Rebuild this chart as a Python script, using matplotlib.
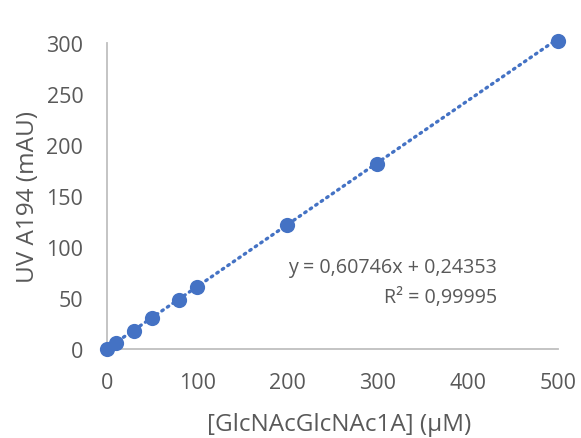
import matplotlib
matplotlib.use("Agg")
import matplotlib.pyplot as plt
import numpy as np

# Calibration data
concentration = [0, 10, 30, 50, 80, 100, 200, 300, 500]
absorbance = [0, 6, 18, 30, 48, 61, 121, 181, 302]
slope = 0.60746
intercept = 0.24353
r_squared = "0,99995"
x_ticks = [0, 100, 200, 300, 400, 500]
y_ticks = [0, 50, 100, 150, 200, 250, 300]

blue = "#4472C4"
grey_text = "#595959"
grey_axis = "#BFBFBF"

plt.rcParams["font.family"] = ["Open Sans", "DejaVu Sans"]

fig = plt.figure(figsize=(5.81, 4.39), dpi=100)
ax = fig.add_axes([0.184, 0.203, 0.776, 0.697])

xs = np.array([0, 500])
ax.plot(xs, slope * xs + intercept, color=blue, lw=2.4, ls=(0, (0.5, 1.5)),
        dash_capstyle="round", zorder=2, clip_on=False)
ax.scatter(concentration, absorbance, s=120, color=blue, zorder=3, clip_on=False,
           linewidths=0)

ax.set_xlim(0, 500)
ax.set_ylim(0, 300)
ax.set_xticks(x_ticks)
ax.set_yticks(y_ticks)
ax.tick_params(length=0, labelsize=15.5, colors=grey_text)
ax.tick_params(axis="x", pad=17)
ax.tick_params(axis="y", pad=17)
for side in ("top", "right"):
    ax.spines[side].set_visible(False)
for side in ("left", "bottom"):
    ax.spines[side].set_color(grey_axis)
    ax.spines[side].set_linewidth(1.3)

ax.set_xlabel("[GlcNAcGlcNAc1A] (µM)", fontsize=17.5, color=grey_text, va="center")
ax.set_ylabel("UV A194 (mAU)", fontsize=17.5, color=grey_text, va="center")
ax.xaxis.set_label_coords(0.515, -0.245)
ax.yaxis.set_label_coords(-0.175, 0.5)

ax.text(433, 80, "y = 0,60746x + 0,24353", ha="right", va="center",
        fontsize=14.2, color=grey_text)
ax.text(433, 51, f"R² = {r_squared}", ha="right", va="center",
        fontsize=14.2, color=grey_text)

fig.savefig("out.png", dpi=100)
